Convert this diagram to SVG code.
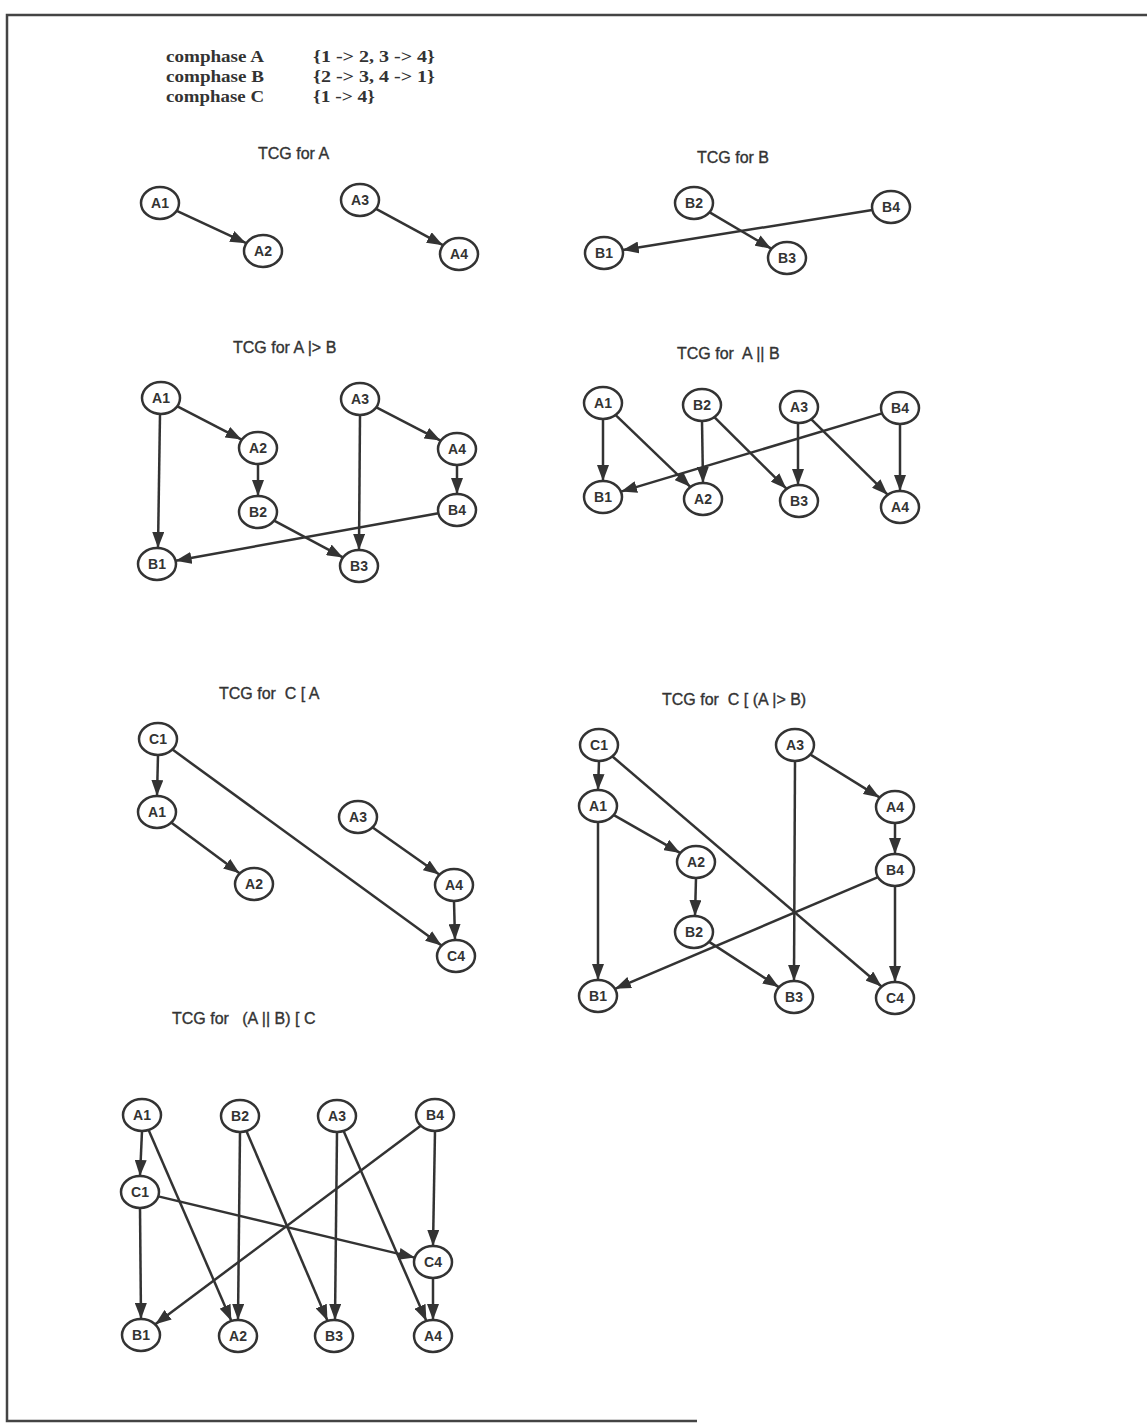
<svg xmlns="http://www.w3.org/2000/svg" width="1147" height="1425" viewBox="0 0 1147 1425">
  <defs>
    <marker id="arrow" viewBox="0 0 16 12" refX="16" refY="6" markerWidth="16" markerHeight="12" markerUnits="userSpaceOnUse" orient="auto">
      <path d="M0,0 L16,6 L0,12 Z" fill="#333"/>
    </marker>
  </defs>
  <style>
    .frame { fill: none; stroke: #444; stroke-width: 2.5; }
    .hdr { font-family: "Liberation Serif", serif; font-size: 16px; font-weight: bold; fill: #333; }
    .title { font-family: "Liberation Sans", Arial, sans-serif; font-size: 16px; fill: #333; stroke: #333; stroke-width: 0.35; }
    .node ellipse { fill: #fff; stroke: #333; stroke-width: 2.5; }
    .node text { font-family: "Liberation Sans", Arial, sans-serif; font-size: 14px; font-weight: bold; fill: #333; text-anchor: middle; }
    #connectors line { stroke: #333; stroke-width: 2.5; marker-end: url(#arrow); }
  </style>
  <rect width="1147" height="1425" fill="#fff"/>

  <!-- page frame -->
  <path class="frame" d="M1147,15 H7 V1421 H697"/>

  <!-- phase definitions -->
  <g id="header">
    <text class="hdr" x="166" y="62" textLength="98" lengthAdjust="spacingAndGlyphs">comphase A</text>
    <text class="hdr" x="166" y="82" textLength="98" lengthAdjust="spacingAndGlyphs">comphase B</text>
    <text class="hdr" x="166" y="102" textLength="98" lengthAdjust="spacingAndGlyphs">comphase C</text>
    <text class="hdr" x="313" y="62" font-weight="normal" textLength="122" lengthAdjust="spacingAndGlyphs">{1 -&gt; 2, 3 -&gt; 4}</text>
    <text class="hdr" x="313" y="82" font-weight="normal" textLength="122" lengthAdjust="spacingAndGlyphs">{2 -&gt; 3, 4 -&gt; 1}</text>
    <text class="hdr" x="313" y="102" font-weight="normal" textLength="62" lengthAdjust="spacingAndGlyphs">{1 -&gt; 4}</text>
  </g>

  <!-- graph titles -->
  <g id="titles">
    <text class="title" x="258" y="159">TCG for A</text>
    <text class="title" x="697" y="163">TCG for B</text>
    <text class="title" x="233" y="353">TCG for A |&gt; B</text>
    <text class="title" x="677" y="359" xml:space="preserve">TCG for  A || B</text>
    <text class="title" x="219" y="699" xml:space="preserve">TCG for  C [ A</text>
    <text class="title" x="662" y="705" xml:space="preserve">TCG for  C [ (A |&gt; B)</text>
    <text class="title" x="172" y="1024" xml:space="preserve">TCG for   (A || B) [ C</text>
  </g>

  <!-- connectors -->
  <g id="connectors">
    <!-- TCG for A -->
    <line x1="176.8" y1="210.8" x2="246.2" y2="243.2"/>
    <line x1="376.1" y1="208.8" x2="442.9" y2="245.2"/>
    <!-- TCG for B -->
    <line x1="709.7" y1="212.3" x2="771.3" y2="248.7"/>
    <line x1="872.3" y1="210" x2="622.7" y2="250"/>
    <!-- TCG for A |> B -->
    <line x1="177.4" y1="406.4" x2="241.6" y2="439.6"/>
    <line x1="160" y1="414" x2="158" y2="548"/>
    <line x1="258" y1="464" x2="258" y2="496"/>
    <line x1="274.1" y1="520.6" x2="342.9" y2="557.4"/>
    <line x1="376.4" y1="407.4" x2="440.6" y2="440.6"/>
    <line x1="360" y1="415" x2="359" y2="550"/>
    <line x1="457" y1="465" x2="457" y2="494"/>
    <line x1="438.4" y1="513.3" x2="175.6" y2="560.7"/>
    <!-- TCG for A || B -->
    <line x1="603" y1="419" x2="603" y2="481"/>
    <line x1="615.7" y1="415.2" x2="690.3" y2="486.8"/>
    <line x1="702" y1="421" x2="703" y2="483"/>
    <line x1="714.6" y1="417.3" x2="786.4" y2="488.7"/>
    <line x1="798" y1="423" x2="798" y2="485"/>
    <line x1="811.4" y1="419.3" x2="887.6" y2="494.7"/>
    <line x1="900" y1="424" x2="900" y2="491"/>
    <line x1="882" y1="413.4" x2="621" y2="491.6"/>
    <!-- TCG for C [ A -->
    <line x1="158" y1="755" x2="157" y2="796"/>
    <line x1="172.5" y1="749.6" x2="441.5" y2="945.4"/>
    <line x1="171.5" y1="822.7" x2="239.5" y2="873.3"/>
    <line x1="372.7" y1="827.4" x2="439.3" y2="874.6"/>
    <line x1="454" y1="901" x2="455" y2="940"/>
    <!-- TCG for C [ (A |> B) -->
    <line x1="599" y1="761" x2="598" y2="790"/>
    <line x1="612.5" y1="756.5" x2="881.5" y2="986.5"/>
    <line x1="613.9" y1="815.1" x2="680.1" y2="852.9"/>
    <line x1="598" y1="822" x2="598" y2="980"/>
    <line x1="696" y1="878" x2="695" y2="916"/>
    <line x1="709.2" y1="941.9" x2="778.8" y2="987.1"/>
    <line x1="810.5" y1="754.6" x2="879.5" y2="797.4"/>
    <line x1="795" y1="761" x2="794" y2="981"/>
    <line x1="895" y1="823" x2="895" y2="854"/>
    <line x1="895" y1="886" x2="895" y2="982"/>
    <line x1="878" y1="877.2" x2="615" y2="988.8"/>
    <!-- TCG for (A || B) [ C -->
    <line x1="142" y1="1131" x2="140" y2="1176"/>
    <line x1="148.6" y1="1130.1" x2="231.4" y2="1320.9"/>
    <line x1="240" y1="1132" x2="238" y2="1320"/>
    <line x1="246.5" y1="1131.2" x2="327.5" y2="1320.8"/>
    <line x1="337" y1="1132" x2="335" y2="1320"/>
    <line x1="343.6" y1="1131.1" x2="426.4" y2="1320.9"/>
    <line x1="435" y1="1131" x2="433" y2="1246"/>
    <line x1="420.7" y1="1125.7" x2="155.3" y2="1324.3"/>
    <line x1="140" y1="1208" x2="141" y2="1319"/>
    <line x1="158.3" y1="1196.4" x2="414.7" y2="1257.6"/>
    <line x1="433" y1="1278" x2="433" y2="1320"/>
  </g>

  <!-- TCG for A -->
  <g id="gA-A1" class="node"><ellipse cx="160" cy="203" rx="19" ry="16"/><text x="160" y="208">A1</text></g>
  <g id="gA-A2" class="node"><ellipse cx="263" cy="251" rx="19" ry="16"/><text x="263" y="256">A2</text></g>
  <g id="gA-A3" class="node"><ellipse cx="360" cy="200" rx="19" ry="16"/><text x="360" y="205">A3</text></g>
  <g id="gA-A4" class="node"><ellipse cx="459" cy="254" rx="19" ry="16"/><text x="459" y="259">A4</text></g>

  <!-- TCG for B -->
  <g id="gB-B2" class="node"><ellipse cx="694" cy="203" rx="19" ry="16"/><text x="694" y="208">B2</text></g>
  <g id="gB-B4" class="node"><ellipse cx="891" cy="207" rx="19" ry="16"/><text x="891" y="212">B4</text></g>
  <g id="gB-B1" class="node"><ellipse cx="604" cy="253" rx="19" ry="16"/><text x="604" y="258">B1</text></g>
  <g id="gB-B3" class="node"><ellipse cx="787" cy="258" rx="19" ry="16"/><text x="787" y="263">B3</text></g>

  <!-- TCG for A |> B -->
  <g id="gAB-A1" class="node"><ellipse cx="161" cy="398" rx="19" ry="16"/><text x="161" y="403">A1</text></g>
  <g id="gAB-A2" class="node"><ellipse cx="258" cy="448" rx="19" ry="16"/><text x="258" y="453">A2</text></g>
  <g id="gAB-B2" class="node"><ellipse cx="258" cy="512" rx="19" ry="16"/><text x="258" y="517">B2</text></g>
  <g id="gAB-B1" class="node"><ellipse cx="157" cy="564" rx="19" ry="16"/><text x="157" y="569">B1</text></g>
  <g id="gAB-A3" class="node"><ellipse cx="360" cy="399" rx="19" ry="16"/><text x="360" y="404">A3</text></g>
  <g id="gAB-A4" class="node"><ellipse cx="457" cy="449" rx="19" ry="16"/><text x="457" y="454">A4</text></g>
  <g id="gAB-B4" class="node"><ellipse cx="457" cy="510" rx="19" ry="16"/><text x="457" y="515">B4</text></g>
  <g id="gAB-B3" class="node"><ellipse cx="359" cy="566" rx="19" ry="16"/><text x="359" y="571">B3</text></g>

  <!-- TCG for A || B -->
  <g id="gPar-A1" class="node"><ellipse cx="603" cy="403" rx="19" ry="16"/><text x="603" y="408">A1</text></g>
  <g id="gPar-B2" class="node"><ellipse cx="702" cy="405" rx="19" ry="16"/><text x="702" y="410">B2</text></g>
  <g id="gPar-A3" class="node"><ellipse cx="799" cy="407" rx="19" ry="16"/><text x="799" y="412">A3</text></g>
  <g id="gPar-B4" class="node"><ellipse cx="900" cy="408" rx="19" ry="16"/><text x="900" y="413">B4</text></g>
  <g id="gPar-B1" class="node"><ellipse cx="603" cy="497" rx="19" ry="16"/><text x="603" y="502">B1</text></g>
  <g id="gPar-A2" class="node"><ellipse cx="703" cy="499" rx="19" ry="16"/><text x="703" y="504">A2</text></g>
  <g id="gPar-B3" class="node"><ellipse cx="799" cy="501" rx="19" ry="16"/><text x="799" y="506">B3</text></g>
  <g id="gPar-A4" class="node"><ellipse cx="900" cy="507" rx="19" ry="16"/><text x="900" y="512">A4</text></g>

  <!-- TCG for C [ A -->
  <g id="gCA-C1" class="node"><ellipse cx="158" cy="739" rx="19" ry="16"/><text x="158" y="744">C1</text></g>
  <g id="gCA-A1" class="node"><ellipse cx="157" cy="812" rx="19" ry="16"/><text x="157" y="817">A1</text></g>
  <g id="gCA-A2" class="node"><ellipse cx="254" cy="884" rx="19" ry="16"/><text x="254" y="889">A2</text></g>
  <g id="gCA-A3" class="node"><ellipse cx="358" cy="817" rx="19" ry="16"/><text x="358" y="822">A3</text></g>
  <g id="gCA-A4" class="node"><ellipse cx="454" cy="885" rx="19" ry="16"/><text x="454" y="890">A4</text></g>
  <g id="gCA-C4" class="node"><ellipse cx="456" cy="956" rx="19" ry="16"/><text x="456" y="961">C4</text></g>

  <!-- TCG for C [ (A |> B) -->
  <g id="gCAB-C1" class="node"><ellipse cx="599" cy="745" rx="19" ry="16"/><text x="599" y="750">C1</text></g>
  <g id="gCAB-A1" class="node"><ellipse cx="598" cy="806" rx="19" ry="16"/><text x="598" y="811">A1</text></g>
  <g id="gCAB-A2" class="node"><ellipse cx="696" cy="862" rx="19" ry="16"/><text x="696" y="867">A2</text></g>
  <g id="gCAB-B2" class="node"><ellipse cx="694" cy="932" rx="19" ry="16"/><text x="694" y="937">B2</text></g>
  <g id="gCAB-B1" class="node"><ellipse cx="598" cy="996" rx="19" ry="16"/><text x="598" y="1001">B1</text></g>
  <g id="gCAB-A3" class="node"><ellipse cx="795" cy="745" rx="19" ry="16"/><text x="795" y="750">A3</text></g>
  <g id="gCAB-A4" class="node"><ellipse cx="895" cy="807" rx="19" ry="16"/><text x="895" y="812">A4</text></g>
  <g id="gCAB-B4" class="node"><ellipse cx="895" cy="870" rx="19" ry="16"/><text x="895" y="875">B4</text></g>
  <g id="gCAB-B3" class="node"><ellipse cx="794" cy="997" rx="19" ry="16"/><text x="794" y="1002">B3</text></g>
  <g id="gCAB-C4" class="node"><ellipse cx="895" cy="998" rx="19" ry="16"/><text x="895" y="1003">C4</text></g>

  <!-- TCG for (A || B) [ C -->
  <g id="gPC-A1" class="node"><ellipse cx="142" cy="1115" rx="19" ry="16"/><text x="142" y="1120">A1</text></g>
  <g id="gPC-B2" class="node"><ellipse cx="240" cy="1116" rx="19" ry="16"/><text x="240" y="1121">B2</text></g>
  <g id="gPC-A3" class="node"><ellipse cx="337" cy="1116" rx="19" ry="16"/><text x="337" y="1121">A3</text></g>
  <g id="gPC-B4" class="node"><ellipse cx="435" cy="1115" rx="19" ry="16"/><text x="435" y="1120">B4</text></g>
  <g id="gPC-C1" class="node"><ellipse cx="140" cy="1192" rx="19" ry="16"/><text x="140" y="1197">C1</text></g>
  <g id="gPC-C4" class="node"><ellipse cx="433" cy="1262" rx="19" ry="16"/><text x="433" y="1267">C4</text></g>
  <g id="gPC-B1" class="node"><ellipse cx="141" cy="1335" rx="19" ry="16"/><text x="141" y="1340">B1</text></g>
  <g id="gPC-A2" class="node"><ellipse cx="238" cy="1336" rx="19" ry="16"/><text x="238" y="1341">A2</text></g>
  <g id="gPC-B3" class="node"><ellipse cx="334" cy="1336" rx="19" ry="16"/><text x="334" y="1341">B3</text></g>
  <g id="gPC-A4" class="node"><ellipse cx="433" cy="1336" rx="19" ry="16"/><text x="433" y="1341">A4</text></g>
</svg>
